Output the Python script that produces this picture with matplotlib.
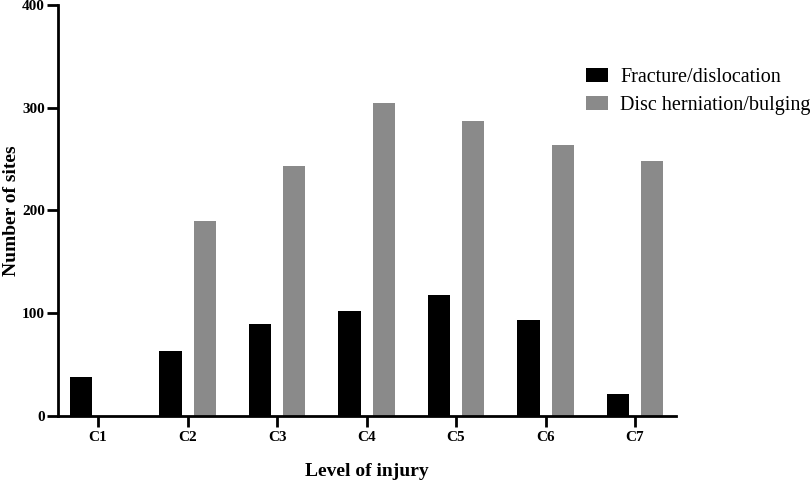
import numpy as np
import matplotlib.pyplot as plt

levels = ['C1', 'C2', 'C3', 'C4', 'C5', 'C6', 'C7']
fracture = [38, 63, 89, 102, 118, 93, 21]
herniation = [0, 190, 243, 305, 287, 264, 248]

plt.rcParams['font.family'] = ['Liberation Serif', 'DejaVu Serif']

fig = plt.figure(figsize=(8.1, 4.8), dpi=100)
ax = fig.add_axes([58/810, 1-415.7/480, (676-58)/810, (415.7-5)/480])

x = np.arange(len(levels))
w = 0.246
off = 0.19
ax.bar(x - off, fracture, w, color='black', label='Fracture/dislocation')
ax.bar(x + off, herniation, w, color='#8a8a8a', label='Disc herniation/bulging')

ax.set_xlim(-0.447, 6.458)
ax.set_ylim(0, 400)
ax.set_yticks([0, 100, 200, 300, 400])
ax.set_xticks(x)
ax.set_xticklabels(levels)

for s in ['top', 'right']:
    ax.spines[s].set_visible(False)
for s in ['left', 'bottom']:
    ax.spines[s].set_linewidth(2)
ax.tick_params(width=2, length=8, labelsize=11)
ax.tick_params(axis='y', pad=1.5)
ax.tick_params(axis='x', pad=3)
for lab in ax.get_xticklabels() + ax.get_yticklabels():
    lab.set_fontweight('bold')

ax.set_xlabel('Level of injury', fontsize=14, fontweight='bold', labelpad=14)
ax.set_ylabel('Number of sites', fontsize=14, fontweight='bold')
ax.yaxis.set_label_coords(-0.062, 0.5)

fig.legend(loc='upper left', bbox_to_anchor=(586/810, 1-68/480), frameon=False,
           fontsize=14.5, handlelength=1.1, handleheight=0.7, handletextpad=0.6,
           borderpad=0, borderaxespad=0, labelspacing=0.45)

fig.savefig('out.png', dpi=100)
